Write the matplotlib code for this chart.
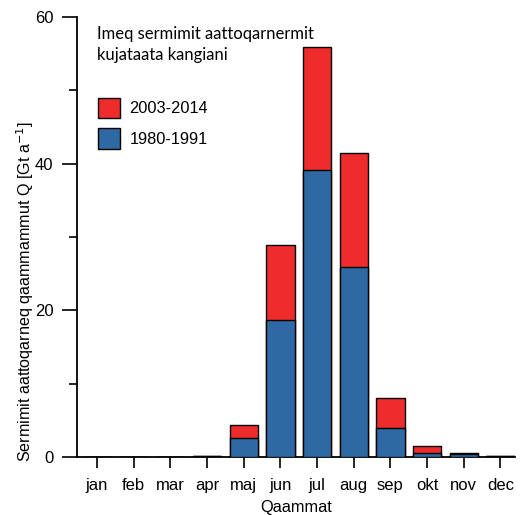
import matplotlib
matplotlib.use("Agg")
import matplotlib.pyplot as plt
from matplotlib.patches import Patch
from matplotlib.ticker import MultipleLocator

months = ["jan", "feb", "mar", "apr", "maj", "jun", "jul", "aug", "sep", "okt", "nov", "dec"]
q_2003_2014 = [0.05, 0.05, 0.05, 0.2, 4.4, 28.9, 55.9, 41.5, 8.0, 1.5, 0.5, 0.1]
q_1980_1991 = [0.05, 0.05, 0.05, 0.2, 2.6, 18.7, 39.2, 25.9, 3.9, 0.6, 0.4, 0.1]

red = "#EE2C2C"
blue = "#2F69A3"
arial = ['Liberation Sans', 'DejaVu Sans']

plt.rcParams['font.family'] = arial
fig = plt.figure(figsize=(5.23, 5.15), dpi=100)
ax = fig.add_axes([0.147, 0.1126, 0.838, 0.8544])

x = list(range(len(months)))
ax.bar(x, q_2003_2014, width=0.77, color=red, edgecolor="black", linewidth=1.0, zorder=2)
ax.bar(x, q_1980_1991, width=0.77, color=blue, edgecolor="black", linewidth=1.0, zorder=3)

ax.set_xlim(-0.55, 11.4)
ax.set_ylim(0, 60)
ax.set_xticks(x)
ax.set_xticklabels(months, fontsize=12, family=arial)
ax.yaxis.set_major_locator(MultipleLocator(20))
ax.yaxis.set_minor_locator(MultipleLocator(10))
ax.tick_params(axis='y', labelsize=12, length=11, width=1.2, pad=6)
ax.tick_params(axis='y', which='minor', length=6, width=1.2)
ax.tick_params(axis='x', length=8, width=1.2, pad=7)
for s in ['top', 'right']:
    ax.spines[s].set_visible(False)
for s in ['left', 'bottom']:
    ax.spines[s].set_linewidth(1.3)

ax.set_xlabel("Qaammat", fontsize=11.8, labelpad=5, family=arial)
ax.set_ylabel("Sermimit aattoqarneq qaammammut Q [Gt a$^{-1}$]", fontsize=11.6, family=arial)
ax.yaxis.set_label_coords(-0.093, 0.375)

ax.text(0.045, 0.98, "Imeq sermimit aattoqarnermit\nkujataata kangiani", transform=ax.transAxes,
        fontsize=12, family=['Lato', 'DejaVu Sans'], va='top', ha='left', linespacing=1.4)

handles = [Patch(facecolor=red, edgecolor="black", label="2003-2014"),
           Patch(facecolor=blue, edgecolor="black", label="1980-1991")]
ax.legend(handles=handles, loc='upper left', bbox_to_anchor=(0.015, 0.85), frameon=False,
          prop={'family': arial, 'size': 11.8},
          handlelength=1.3, handleheight=1.55, handletextpad=0.6, labelspacing=0.6)

fig.savefig("out.png", dpi=100)
